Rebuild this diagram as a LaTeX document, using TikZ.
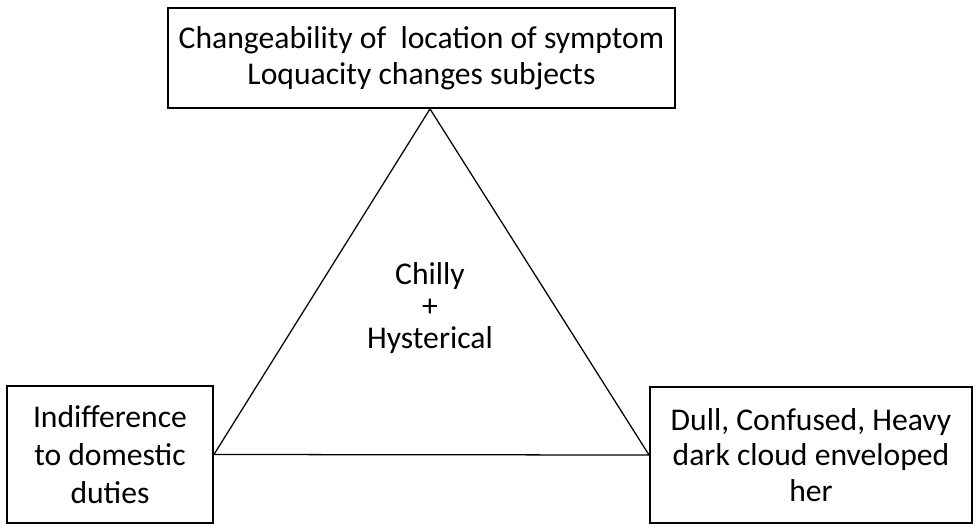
\documentclass[tikz,border=0pt]{standalone}
\usepackage{fontspec}
\setmainfont{Carlito}

\begin{document}
\begin{tikzpicture}[x=0.025cm,y=-0.025cm,
  sympbox/.style={draw=black,line width=1.3pt,align=center,font=\fontsize{22.5}{25.5}\selectfont,inner sep=2pt}]
\useasboundingbox (0,0) rectangle (977,526);
\node[sympbox,minimum width=12.675cm,minimum height=2.5cm] (change) at (421.5,58) {Changeability of~ location of symptom\\Loquacity changes subjects};
\node[sympbox,minimum width=5.15cm,minimum height=3.425cm,font=\fontsize{22.5}{27}\selectfont] (indiff) at (110,454.5) {Indifference\\to domestic\\duties};
\node[sympbox,minimum width=8.05cm,minimum height=3.4cm] (dull) at (811,455) {Dull, Confused, Heavy\\dark cloud enveloped\\her};
\node[align=center,font=\fontsize{22.5}{22.5}\selectfont] (chilly) at (430,308) {Chilly\\+\\Hysterical};
\draw[line width=0.9pt] (change.south -| chilly) -- (indiff.east) -- (dull.west) -- cycle;
\end{tikzpicture}
\end{document}
